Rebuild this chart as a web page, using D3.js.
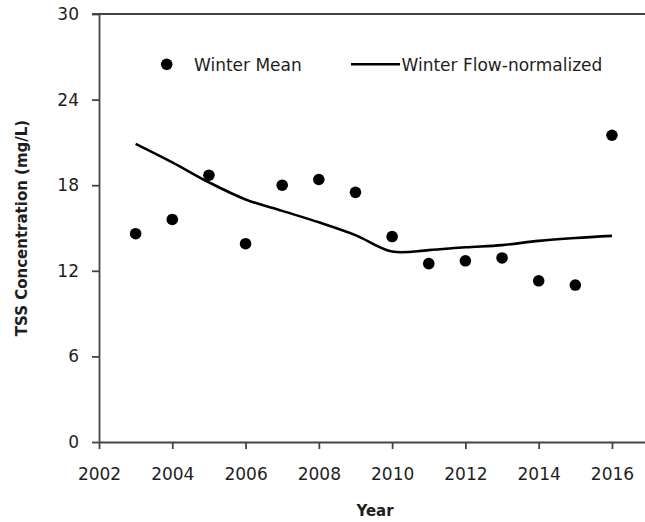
<!DOCTYPE html>
<html>
<head>
<meta charset="utf-8">
<script src="https://cdn.jsdelivr.net/npm/d3@7"></script>
<style>
  html, body { margin: 0; padding: 0; background: #fff; overflow: hidden; }
  svg { display: block; }
  text { font-family: "DejaVu Sans", Verdana, sans-serif; }
</style>
</head>
<body>
<svg id="chart" width="645" height="522"></svg>
<script>
// ---- data ----
const years = [2003, 2004, 2005, 2006, 2007, 2008, 2009, 2010, 2011, 2012, 2013, 2014, 2015, 2016];
const winterMean = [14.6, 15.6, 18.7, 13.9, 18.0, 18.4, 17.5, 14.4, 12.5, 12.7, 12.9, 11.3, 11.0, 21.5];
const winterFlowNormalized = [20.9, 19.6, 18.2, 17.0, 16.2, 15.4, 14.5, 13.35, 13.45, 13.65, 13.8, 14.1, 14.3, 14.45];
const xTicks = [2002, 2004, 2006, 2008, 2010, 2012, 2014, 2016];
const yTicks = [0, 6, 12, 18, 24, 30];
const seriesNames = ["Winter Mean", "Winter Flow-normalized"];
const xTitle = "Year";
const yTitle = "TSS Concentration (mg/L)";

// ---- layout ----
const svg = d3.select("#chart");
const mLeft = 99, mTop = 14, mBottom = 442;
const yearWidth = 36.64;
const x = d3.scaleLinear().domain([2002, 2018]).range([mLeft, mLeft + 16 * yearWidth]);
const y = d3.scaleLinear().domain([0, 30]).range([mBottom, mTop]);

const axisColor = "#444";
const textColor = "#1e1e1e";

// top border line at y max
svg.append("line")
  .attr("x1", mLeft - 7).attr("x2", x(2018))
  .attr("y1", y(30)).attr("y2", y(30))
  .attr("stroke", axisColor).attr("stroke-width", 1.8);

// x axis
const gx = svg.append("g").attr("transform", `translate(0,${mBottom})`)
  .call(d3.axisBottom(x).tickValues(xTicks).tickFormat(d3.format("d")).tickSizeInner(7).tickSizeOuter(0).tickPadding(19));
gx.select(".domain").attr("stroke", axisColor).attr("stroke-width", 1.8);
gx.selectAll(".tick line").attr("stroke", axisColor).attr("stroke-width", 1.8);
gx.selectAll(".tick text").attr("fill", textColor).style("font-size", "17px").attr("font-family", "DejaVu Sans");

// y axis
const gy = svg.append("g").attr("transform", `translate(${mLeft},0)`)
  .call(d3.axisLeft(y).tickValues(yTicks).tickSizeInner(7).tickSizeOuter(0).tickPadding(13));
gy.select(".domain").attr("stroke", axisColor).attr("stroke-width", 1.8);
gy.selectAll(".tick line").attr("stroke", axisColor).attr("stroke-width", 1.8);
gy.selectAll(".tick text").attr("fill", textColor).style("font-size", "17px").attr("font-family", "DejaVu Sans");

// flow-normalized line
const line = d3.line()
  .x((d, i) => x(years[i]))
  .y(d => y(d))
  .curve(d3.curveCatmullRom.alpha(0.5));
svg.append("path")
  .datum(winterFlowNormalized)
  .attr("d", line)
  .attr("fill", "none")
  .attr("stroke", "#000")
  .attr("stroke-width", 2.6);

// winter mean points
svg.append("g").selectAll("circle")
  .data(winterMean)
  .join("circle")
  .attr("cx", (d, i) => x(years[i]))
  .attr("cy", d => y(d))
  .attr("r", 5.8)
  .attr("fill", "#000");

// legend
const lg = svg.append("g");
lg.append("circle").attr("cx", 166.7).attr("cy", 64.3).attr("r", 5.8).attr("fill", "#000");
lg.append("text").attr("x", 194).attr("y", 70.5).text(seriesNames[0])
  .attr("fill", textColor).style("font-size", "17px");
lg.append("line").attr("x1", 351).attr("x2", 400).attr("y1", 64.3).attr("y2", 64.3)
  .attr("stroke", "#000").attr("stroke-width", 2.6);
lg.append("text").attr("x", 401.5).attr("y", 70.5).text(seriesNames[1])
  .attr("fill", textColor).style("font-size", "17px");

// axis titles
svg.append("text")
  .attr("x", 375).attr("y", 516)
  .attr("text-anchor", "middle")
  .attr("font-weight", "bold")
  .style("font-size", "15px")
  .attr("fill", textColor)
  .text(xTitle);

svg.append("text")
  .attr("transform", "translate(27,228) rotate(-90)")
  .attr("text-anchor", "middle")
  .attr("font-weight", "bold")
  .style("font-size", "15px")
  .attr("fill", textColor)
  .text(yTitle);
</script>
</body>
</html>
